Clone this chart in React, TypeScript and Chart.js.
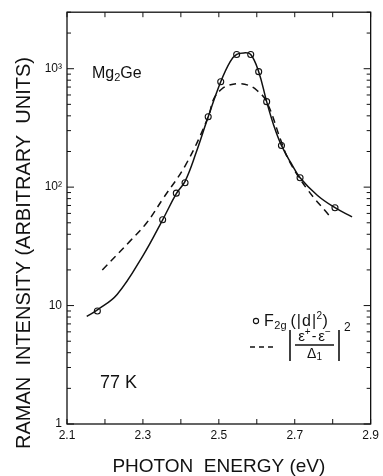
import React, { useEffect, useRef } from "react";
import { Chart, registerables } from "chart.js";

Chart.register(...registerables);

// Measured data points (open circles)
const pointEnergy = [2.18, 2.352, 2.388, 2.411, 2.472, 2.505, 2.547, 2.584, 2.605, 2.626, 2.665, 2.714, 2.806];
const pointIntensity = [9.0, 53, 89, 109, 393, 777, 1320, 1320, 944, 527, 225, 120, 67];

// Solid curve (fit through points)
const solidEnergy = [2.152, 2.18, 2.232, 2.301, 2.352, 2.388, 2.411, 2.44, 2.472, 2.505, 2.53, 2.547, 2.566, 2.584, 2.605, 2.626, 2.645, 2.665, 2.69, 2.714, 2.76, 2.806, 2.851];
const solidIntensity = [8.1, 9.2, 12.4, 26.7, 53, 88, 112, 195, 393, 777, 1150, 1320, 1360, 1320, 944, 527, 330, 225, 160, 120, 85, 67, 56];

// Dashed curve |(e+ - e-)/Δ1|^2
const dashedEnergy = [2.193, 2.266, 2.31, 2.353, 2.413, 2.472, 2.487, 2.509, 2.526, 2.552, 2.578, 2.6, 2.626, 2.665, 2.686, 2.734, 2.79];
const dashedIntensity = [20, 35, 50, 80, 155, 390, 560, 680, 724, 748, 724, 658, 527, 240, 165, 95, 58];

const xTicks = [2.1, 2.2, 2.3, 2.4, 2.5, 2.6, 2.7, 2.8, 2.9];
const xTickLabels = ["2.1", "", "2.3", "", "2.5", "", "2.7", "", "2.9"];
const yMajorTicks = [1, 10, 100, 1000];
const yTickLabels = ["1", "10", "10\u00B2", "10\u00B3"];

const X_MIN = 2.1;
const X_MAX = 2.9;
const Y_MIN = 1;
const Y_MAX = 3000;

const Y_TITLE = "RAMAN  INTENSITY (ARBITRARY  UNITS)";
const X_TITLE = "PHOTON  ENERGY (eV)";

const FONT = "'Liberation Sans', Arial, Helvetica, sans-serif";
const INK = "#111";

type Run = [string, number, number, number?];

function line(ctx: CanvasRenderingContext2D, x1: number, y1: number, x2: number, y2: number) {
  ctx.beginPath();
  ctx.moveTo(x1, y1);
  ctx.lineTo(x2, y2);
  ctx.stroke();
}

function drawRuns(ctx: CanvasRenderingContext2D, x: number, y: number, runs: Run[]) {
  let cx = x;
  for (const [t, size, dy, gap] of runs) {
    ctx.font = `${size}px ${FONT}`;
    ctx.fillText(t, cx, y + dy);
    cx += ctx.measureText(t).width + (gap || 0);
  }
  return cx;
}

function runsWidth(ctx: CanvasRenderingContext2D, runs: Run[]) {
  let w = 0;
  for (const [t, size, , gap] of runs) {
    ctx.font = `${size}px ${FONT}`;
    w += ctx.measureText(t).width + (gap || 0);
  }
  return w;
}

const framePlugin = {
  id: "frame",
  afterDraw(chart: any) {
    const { ctx, chartArea } = chart;
    const { left, right, top, bottom } = chartArea;
    const xs = chart.scales.x;
    const ys = chart.scales.y;
    ctx.save();
    ctx.strokeStyle = INK;
    ctx.fillStyle = INK;
    ctx.lineWidth = 1.3;
    ctx.strokeRect(left, top, right - left, bottom - top);
    ctx.lineWidth = 1;
    for (const v of xTicks) {
      const px = xs.getPixelForValue(v);
      line(ctx, px, bottom, px, bottom - 5);
      line(ctx, px, top, px, top + 5);
    }
    for (let d = 1; d <= Y_MAX; d *= 10) {
      for (let m = 1; m <= 9; m++) {
        const v = d * m;
        if (v > Y_MAX) break;
        const py = ys.getPixelForValue(v);
        const len = m === 1 ? 7 : 4;
        line(ctx, left, py, left + len, py);
        line(ctx, right, py, right - len, py);
      }
    }

    ctx.textBaseline = "alphabetic";
    ctx.textAlign = "left";

    // Y axis title (rotated)
    ctx.save();
    ctx.translate(30, 253);
    ctx.rotate(-Math.PI / 2);
    ctx.textAlign = "center";
    ctx.font = `20px ${FONT}`;
    ctx.fillText(Y_TITLE, 0, 0);
    ctx.restore();

    // Mg2Ge label
    drawRuns(ctx, 92, 78, [["Mg", 16, 0], ["2", 11, 3], ["Ge", 16, 0]]);
    // 77 K
    ctx.font = `18px ${FONT}`;
    ctx.fillText("77 K", 100, 388);

    // Legend row 1: circle marker + F2g (|d|^2)
    ctx.lineWidth = 1.1;
    ctx.fillStyle = "#fff";
    ctx.beginPath();
    ctx.arc(256, 321, 2.6, 0, Math.PI * 2);
    ctx.fill();
    ctx.stroke();
    ctx.fillStyle = INK;
    drawRuns(ctx, 264, 326, [
      ["F", 16, 0, 0.5],
      ["2g", 11, 3, 4],
      ["(", 16, 0, 1],
      ["|", 16, 0, 1],
      ["d", 16, 0, 1],
      ["|", 16, 0, 0.5],
      ["2", 10, -7, 0.5],
      [")", 16, 0],
    ]);

    // Legend row 2: dashed line + |(e+ - e-)/Δ1|^2
    ctx.lineWidth = 1.3;
    ctx.setLineDash([5, 4]);
    line(ctx, 250, 347, 273, 347);
    ctx.setLineDash([]);
    ctx.lineWidth = 1.6;
    line(ctx, 290, 330, 290, 361);
    line(ctx, 339, 330, 339, 361);
    const num: Run[] = [["\u03B5", 15, 0], ["+", 10, -6, 1], ["-", 14, 0, 2], ["\u03B5", 15, 0], ["\u2212", 10, -6]];
    const nw = runsWidth(ctx, num);
    drawRuns(ctx, 314.5 - nw / 2, 341, num);
    ctx.lineWidth = 1.3;
    line(ctx, 295, 345, 334, 345);
    const den: Run[] = [["\u0394", 14, 0], ["1", 10, 2]];
    const dw = runsWidth(ctx, den);
    drawRuns(ctx, 314.5 - dw / 2, 358, den);
    drawRuns(ctx, 344, 331, [["2", 12, 0]]);
    ctx.restore();
  },
};

export default function App() {
  const canvasRef = useRef<HTMLCanvasElement | null>(null);

  useEffect(() => {
    document.body.style.margin = "0";
    const canvas = canvasRef.current;
    if (!canvas) return;
    const chart = new Chart(canvas, {
      type: "scatter",
      data: {
        datasets: [
          {
            label: "fit",
            data: solidEnergy.map((e, i) => ({ x: e, y: solidIntensity[i] })),
            showLine: true,
            borderColor: INK,
            borderWidth: 1.5,
            pointRadius: 0,
            tension: 0.4,
            fill: false,
          },
          {
            label: "theory",
            data: dashedEnergy.map((e, i) => ({ x: e, y: dashedIntensity[i] })),
            showLine: true,
            borderColor: INK,
            borderWidth: 1.5,
            borderDash: [7, 5],
            pointRadius: 0,
            tension: 0.4,
            fill: false,
          },
          {
            label: "F2g (|d|²)",
            data: pointEnergy.map((e, i) => ({ x: e, y: pointIntensity[i] })),
            showLine: false,
            pointStyle: "circle",
            pointRadius: 3,
            pointBackgroundColor: "#fff",
            pointBorderColor: INK,
            pointBorderWidth: 1.1,
          },
        ],
      },
      options: {
        animation: false,
        responsive: true,
        maintainAspectRatio: false,
        layout: { padding: { top: 9, right: 10, left: 0, bottom: 0 } },
        plugins: {
          legend: { display: false },
          tooltip: { enabled: false },
        },
        scales: {
          x: {
            type: "linear",
            min: X_MIN,
            max: X_MAX,
            grid: { display: false, drawTicks: false },
            border: { display: false },
            afterBuildTicks: (scale: any) => {
              scale.ticks = xTicks.map((v) => ({ value: v }));
            },
            afterFit: (scale: any) => {
              scale.height = 52;
            },
            ticks: {
              autoSkip: false,
              maxRotation: 0,
              padding: 4,
              color: INK,
              font: { family: FONT, size: 12 },
              callback: (_v: any, i: number) => xTickLabels[i],
            },
            title: {
              display: true,
              text: X_TITLE,
              color: INK,
              font: { family: FONT, size: 19, lineHeight: 1 },
              padding: { top: 0, bottom: 0 },
            },
          },
          y: {
            type: "logarithmic",
            min: Y_MIN,
            max: Y_MAX,
            grid: { display: false, drawTicks: false },
            border: { display: false },
            afterBuildTicks: (scale: any) => {
              scale.ticks = yMajorTicks.map((v) => ({ value: v }));
            },
            afterFit: (scale: any) => {
              scale.width = 67;
            },
            ticks: {
              autoSkip: false,
              padding: 5,
              color: INK,
              font: { family: FONT, size: 12 },
              callback: (v: any) => {
                const i = yMajorTicks.indexOf(Number(v));
                return i >= 0 ? yTickLabels[i] : "";
              },
            },
            title: { display: false, text: Y_TITLE },
          },
        },
      },
      plugins: [framePlugin],
    });
    return () => chart.destroy();
  }, []);

  return (
    <div style={{ width: 383, height: 476, position: "relative", background: "#fff" }}>
      <canvas ref={canvasRef} />
    </div>
  );
}
